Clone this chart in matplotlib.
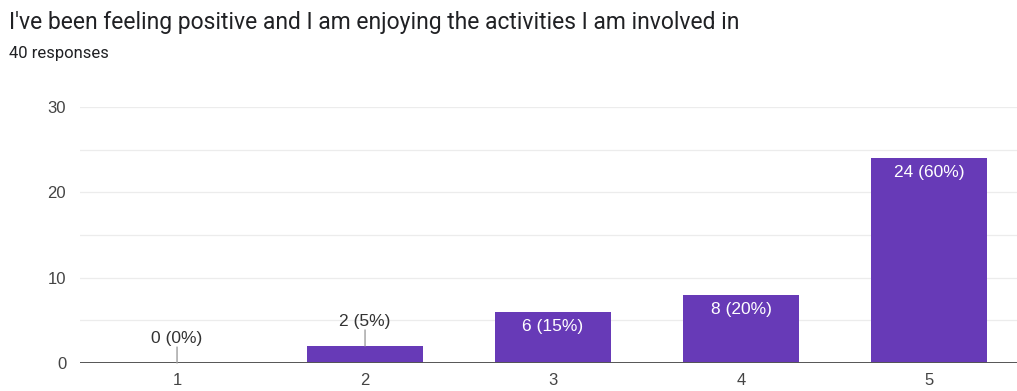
import matplotlib
matplotlib.use("Agg")
import matplotlib.pyplot as plt

# Survey answers on a 1-5 scale
categories = ["1", "2", "3", "4", "5"]
counts = [0, 2, 6, 8, 24]
percents = [0, 5, 15, 20, 60]
title = "I've been feeling positive and I am enjoying the activities I am involved in"
subtitle = "40 responses"
yticks = [0, 10, 20, 30]

BAR = "#673ab7"
LABEL_FONT = ["Liberation Sans", "DejaVu Sans"]

fig = plt.figure(figsize=(10.17, 3.91), dpi=100)
ax = fig.add_axes([0.0787, 0.0716, 0.9213, 0.6547])

x = list(range(len(categories)))
ax.bar(x, counts, width=0.62, color=BAR, zorder=3)

ax.set_xlim(-0.516, 4.468)
ax.set_ylim(0, 30)

# light horizontal grid every 5 units
for yv in range(5, 31, 5):
    ax.axhline(yv, color="#ececec", lw=0.9, zorder=1)
ax.axhline(0, color="#555555", lw=1.4, zorder=4)

for s in ax.spines.values():
    s.set_visible(False)

ax.set_xticks(x)
ax.set_xticklabels(categories)
ax.set_yticks(yticks)
ax.tick_params(axis="both", length=0, labelsize=12, labelcolor="#444444")
ax.tick_params(axis="x", pad=7)
ax.tick_params(axis="y", pad=10)
for lab in ax.get_xticklabels() + ax.get_yticklabels():
    lab.set_fontfamily(LABEL_FONT)

# value labels: inside tall bars, above short ones with a leader line
for xi, c, p in zip(x, counts, percents):
    text = f"{c} ({p}%)"
    if c >= 5:
        ax.annotate(text, (xi, c), xytext=(0, -10.5), textcoords="offset points",
                    ha="center", va="center", color="white", fontsize=12.5,
                    family=LABEL_FONT, zorder=5)
    else:
        ax.annotate(text, (xi, c), xytext=(0, 17.5), textcoords="offset points",
                    ha="center", va="center", color="#333333", fontsize=12.5,
                    family=LABEL_FONT, zorder=5)
        ax.annotate("", (xi, c), xytext=(0, 11.5), textcoords="offset points",
                    arrowprops=dict(arrowstyle="-", color="#9e9e9e", lw=1,
                                    shrinkA=0, shrinkB=0), zorder=5)

fig.text(0.009, 0.942, title, fontsize=16.5, color="#202124",
         family=["Roboto", "DejaVu Sans"], va="center", ha="left")
fig.text(0.009, 0.864, subtitle, fontsize=12, color="#202124",
         family=["Roboto", "DejaVu Sans"], va="center", ha="left")

fig.savefig("out.png", dpi=100)
